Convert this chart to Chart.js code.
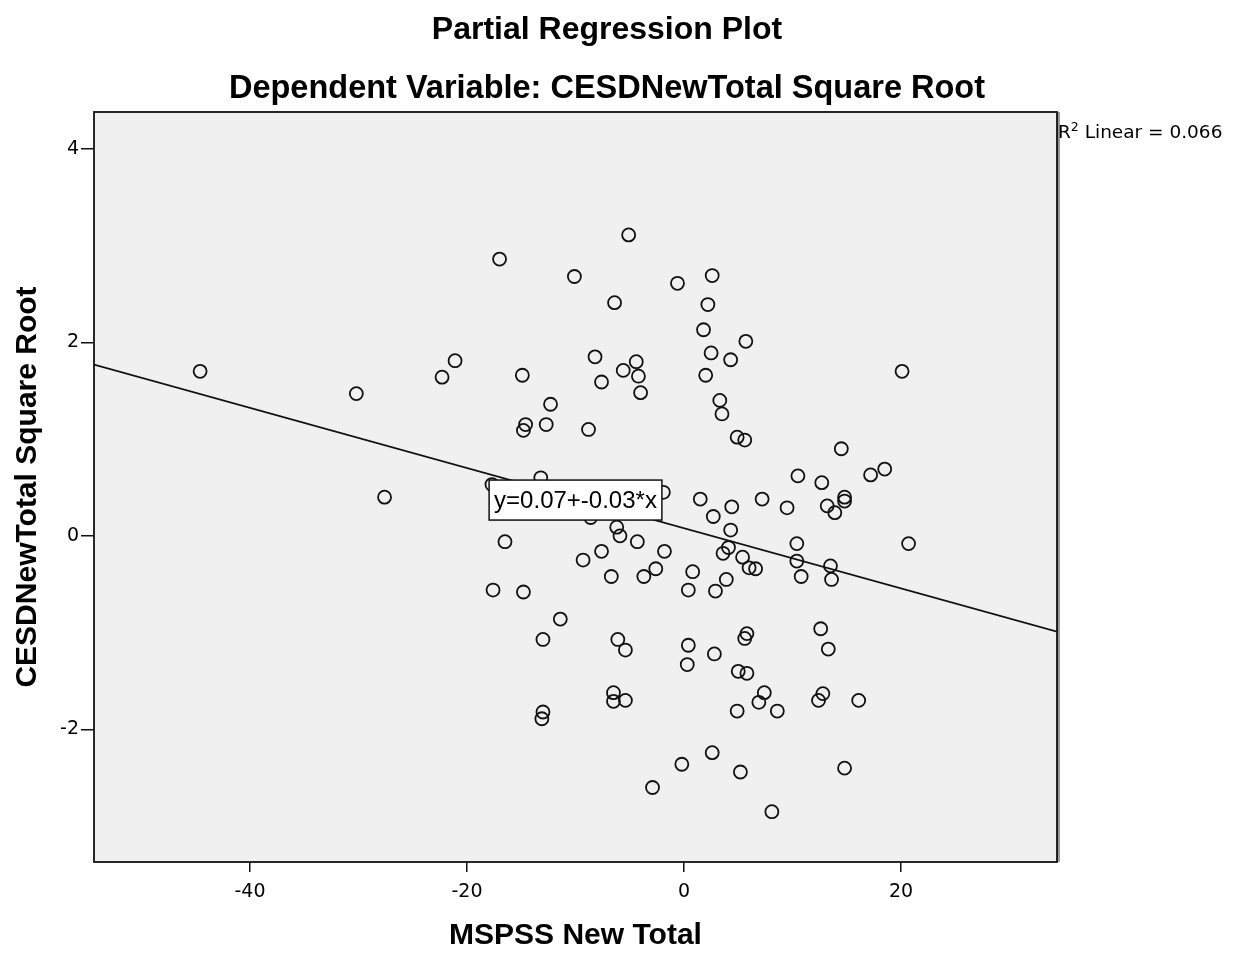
<!DOCTYPE html>
<html>
<head>
<meta charset="utf-8">
<script src="https://cdn.jsdelivr.net/npm/chart.js@4.4.0/dist/chart.umd.min.js"></script>
<style>
  html, body { margin: 0; padding: 0; background: #fff; }
</style>
</head>
<body>
<canvas id="plot" width="1239" height="954"></canvas>
<script>
// residuals: MSPSS New Total (x) vs CESDNewTotal Square Root (y)
const mspss = [
  -44.6, -30.2, -27.6, -22.3, -21.1, -17.0, -17.7, -16.5, -17.6, -14.8,
  -14.9, -14.6, -14.8, -12.3, -12.7, -13.2, -13.0, -11.4, -13.0, -13.1,
  -10.1, -8.8, -9.3, -8.2, -7.6, -7.6, -8.6, -6.4, -6.7, -6.2,
  -5.9, -5.1, -5.6, -4.4, -4.2, -4.0, -4.3, -3.7, -2.6, -1.9,
  -1.8, -6.1, -5.4, -6.5, -6.5, -5.4, -2.9, -0.6, -0.2, 0.8,
  0.4, 0.4, 0.3, 1.5, 2.6, 2.2, 1.8, 2.5, 2.0, 2.7,
  2.9, 2.8, 2.6, 3.3, 3.5, 3.6, 4.1, 3.9, 4.3, 4.4,
  4.3, 4.9, 5.6, 5.7, 5.4, 6.0, 6.6, 5.8, 5.6, 5.0,
  5.8, 7.4, 6.9, 4.9, 8.6, 5.2, 8.1, 7.2, 9.5, 10.5,
  12.7, 10.4, 10.4, 10.8, 13.2, 13.9, 14.8, 14.8, 14.5, 13.5,
  13.6, 12.6, 13.3, 12.8, 12.4, 16.1, 14.8, 17.2, 18.5, 20.1,
  20.7
];
const cesd = [
  1.70, 1.47, 0.40, 1.64, 1.81, 2.86, 0.53, -0.06, -0.56, -0.58,
  1.66, 1.15, 1.09, 1.36, 1.15, 0.60, -1.07, -0.86, -1.82, -1.89,
  2.68, 1.10, -0.25, 1.85, 1.59, -0.16, 0.19, 2.41, -0.42, 0.09,
  0.00, 3.11, 1.71, 1.80, 1.65, 1.48, -0.06, -0.42, -0.34, 0.45,
  -0.16, -1.07, -1.18, -1.62, -1.71, -1.70, -2.60, 2.61, -2.36, -0.37,
  -0.56, -1.13, -1.33, 0.38, 2.69, 2.39, 2.13, 1.89, 1.66, 0.20,
  -0.57, -1.22, -2.24, 1.40, 1.26, -0.18, -0.12, -0.45, 1.82, 0.30,
  0.06, 1.02, 0.99, 2.01, -0.22, -0.33, -0.34, -1.01, -1.06, -1.40,
  -1.42, -1.62, -1.72, -1.81, -1.81, -2.44, -2.85, 0.38, 0.29, 0.62,
  0.55, -0.08, -0.26, -0.42, 0.31, 0.24, 0.40, 0.36, 0.90, -0.31,
  -0.45, -0.96, -1.17, -1.63, -1.70, -1.70, -2.40, 0.63, 0.69, 1.70,
  -0.08
];

// fit line ends at the plot edges
const fitX = [-54.38, 34.38];
const fitY = [1.77, -0.99];

const xTicks = [-40, -20, 0, 20];
const yTicks = [-2, 0, 2, 4];
const xRange = [-54.38, 34.38];
const yRange = [-3.37, 4.38];

const titleLines = ["Partial Regression Plot", "Dependent Variable: CESDNewTotal Square Root"];
const fitLabel = "y=0.07+-0.03*x";
const fitLabelAt = [-10.0, 0.37];
const r2Value = "0.066";

const ink = "#111";

// grey plot area, frame, equation box, R2 note and titles
const spssFrame = {
  id: "spssFrame",
  beforeDatasetsDraw(chart) {
    const { ctx, chartArea: a } = chart;
    ctx.save();
    ctx.fillStyle = "#f0f0f0";
    ctx.fillRect(a.left, a.top, a.width, a.height);
    ctx.restore();
  },
  afterDraw(chart) {
    const { ctx, chartArea: a, scales } = chart;
    ctx.save();

    // frame
    ctx.strokeStyle = "#999";
    ctx.lineWidth = 3;
    ctx.beginPath();
    ctx.moveTo(a.right + 1.5, a.top);
    ctx.lineTo(a.right + 1.5, a.bottom);
    ctx.stroke();
    ctx.strokeStyle = ink;
    ctx.lineWidth = 1.8;
    ctx.strokeRect(a.left, a.top, a.width, a.height);

    // equation box
    const cx = scales.x.getPixelForValue(fitLabelAt[0]);
    const cy = scales.y.getPixelForValue(fitLabelAt[1]);
    ctx.font = "24px 'Liberation Sans', Arial, sans-serif";
    const w = ctx.measureText(fitLabel).width + 10;
    const h = 40;
    ctx.fillStyle = "#fff";
    ctx.fillRect(cx - w / 2, cy - h / 2, w, h);
    ctx.strokeStyle = ink;
    ctx.lineWidth = 1.5;
    ctx.strokeRect(cx - w / 2, cy - h / 2, w, h);
    ctx.fillStyle = "#000";
    ctx.textAlign = "center";
    ctx.textBaseline = "middle";
    ctx.fillText(fitLabel, cx, cy + 1);

    // R2 note
    ctx.textAlign = "left";
    ctx.textBaseline = "alphabetic";
    let x = a.right + 1;
    ctx.font = "18.5px 'DejaVu Sans', sans-serif";
    ctx.fillText("R", x, 138);
    x += ctx.measureText("R").width;
    ctx.font = "12.5px 'DejaVu Sans', sans-serif";
    ctx.fillText("2", x, 131);
    x += ctx.measureText("2").width;
    ctx.font = "18.5px 'DejaVu Sans', sans-serif";
    ctx.fillText(" Linear = " + r2Value, x, 138);

    // titles
    ctx.textAlign = "center";
    ctx.font = "bold 32px 'Liberation Sans', Arial, sans-serif";
    ctx.fillText(titleLines[0], 607, 39);
    ctx.font = "bold 32.5px 'Liberation Sans', Arial, sans-serif";
    ctx.fillText(titleLines[1], 607, 98);

    ctx.restore();
  }
};

const tickFont = { family: "'DejaVu Sans', sans-serif", size: 19 };
const axisFont = { family: "'Liberation Sans', Arial, sans-serif", size: 30, weight: "bold" };

new Chart(document.getElementById("plot"), {
  type: "scatter",
  data: {
    datasets: [
      {
        data: mspss.map((v, i) => ({ x: v, y: cesd[i] })),
        pointRadius: 6.5,
        pointHoverRadius: 6.5,
        pointBorderWidth: 1.8,
        pointBorderColor: ink,
        pointBackgroundColor: "rgba(0,0,0,0)"
      },
      {
        data: fitX.map((v, i) => ({ x: v, y: fitY[i] })),
        showLine: true,
        borderColor: ink,
        borderWidth: 1.6,
        pointRadius: 0
      }
    ]
  },
  options: {
    responsive: false,
    animation: false,
    devicePixelRatio: 1,
    layout: { padding: { top: 112, right: 182, left: 0, bottom: 0 } },
    plugins: { legend: { display: false }, tooltip: { enabled: false } },
    scales: {
      x: {
        type: "linear",
        min: xRange[0],
        max: xRange[1],
        afterBuildTicks: s => { s.ticks = xTicks.map(v => ({ value: v })); },
        afterFit: s => { s.height = 92; },
        border: { display: false },
        grid: { drawOnChartArea: false, tickLength: 10, color: ink, lineWidth: 1.5 },
        ticks: { color: "#000", font: tickFont, padding: 9 },
        title: { display: true, text: "MSPSS New Total", color: "#000", font: axisFont, padding: { top: 0, bottom: 0 } }
      },
      y: {
        type: "linear",
        min: yRange[0],
        max: yRange[1],
        afterBuildTicks: s => { s.ticks = yTicks.map(v => ({ value: v })); },
        afterFit: s => { s.width = 94; },
        border: { display: false },
        grid: { drawOnChartArea: false, tickLength: 13, color: ink, lineWidth: 1.5 },
        ticks: { color: "#000", font: tickFont, padding: 2 },
        title: { display: true, text: "CESDNewTotal Square Root", color: "#000", font: axisFont, padding: { top: 10, bottom: 0 } }
      }
    }
  },
  plugins: [spssFrame]
});
</script>
</body>
</html>
